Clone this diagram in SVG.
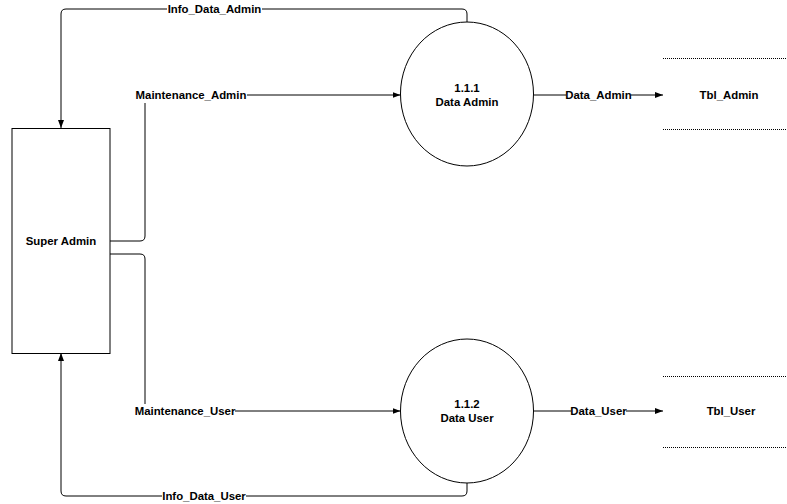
<svg xmlns="http://www.w3.org/2000/svg" width="787" height="504" viewBox="0 0 787 504">
<style>
text{font-family:"Liberation Sans",Arial,sans-serif;font-size:11.4px;font-weight:bold;fill:#000;text-anchor:middle;dominant-baseline:central}
.shape{fill:#fff;stroke:#000;stroke-width:1}
.edge{fill:none;stroke:#000;stroke-width:1}
.dot{stroke:#000;stroke-width:1;stroke-dasharray:1 1}
.lbl{fill:#fff}
</style>
<defs>
<marker id="arr" viewBox="0 0 8 8" refX="8" refY="4" markerWidth="8" markerHeight="8" markerUnits="userSpaceOnUse" orient="auto">
<path d="M0,1 L8,4 L0,7 Z" fill="#000"/>
</marker>
</defs>
<rect width="787" height="504" fill="#fff"/>
<g id="connectors">
<path class="edge" d="M467,22 V14 Q467,9 462,9 H66 Q61,9 61,14 V128" marker-end="url(#arr)"/>
<rect class="lbl" x="167" y="2" width="95" height="14"/>
<text x="214.5" y="9">Info_Data_Admin</text>
<path class="edge" d="M110,241 H140 Q145,241 145,236 V95 H400.5" marker-end="url(#arr)"/>
<rect class="lbl" x="135" y="88" width="112" height="15"/>
<text x="191" y="95">Maintenance_Admin</text>
<path class="edge" d="M110,254 H140 Q145,254 145,259 V411 H400.5" marker-end="url(#arr)"/>
<rect class="lbl" x="135" y="404" width="100" height="15"/>
<text x="185" y="411">Maintenance_User</text>
<path class="edge" d="M467,483 V491 Q467,496 462,496 H66 Q61,496 61,491 V353" marker-end="url(#arr)"/>
<rect class="lbl" x="162" y="489" width="84" height="14"/>
<text x="204" y="496">Info_Data_User</text>
<path class="edge" d="M534,95 H663" marker-end="url(#arr)"/>
<rect class="lbl" x="566" y="88" width="65" height="14"/>
<text x="598.5" y="95">Data_Admin</text>
<path class="edge" d="M534,411 H663" marker-end="url(#arr)"/>
<rect class="lbl" x="571" y="404" width="55" height="14"/>
<text x="598.5" y="411">Data_User</text>
</g>
<g id="super-admin">
<rect class="shape" x="12" y="128.5" width="98" height="225"/>
<text x="61" y="241">Super Admin</text>
</g>
<g id="data-admin">
<ellipse class="shape" cx="467" cy="94" rx="66.5" ry="72"/>
<text x="467" y="88">1.1.1</text>
<text x="467" y="102">Data Admin</text>
</g>
<g id="data-user">
<ellipse class="shape" cx="467" cy="411" rx="66.5" ry="72"/>
<text x="467" y="404">1.1.2</text>
<text x="467" y="418">Data User</text>
</g>
<g id="tbl-admin">
<line class="dot" x1="663" y1="58.5" x2="787" y2="58.5"/>
<line class="dot" x1="663" y1="129.5" x2="787" y2="129.5"/>
<text x="729" y="95">Tbl_Admin</text>
</g>
<g id="tbl-user">
<line class="dot" x1="663" y1="376.5" x2="787" y2="376.5"/>
<line class="dot" x1="663" y1="447.5" x2="787" y2="447.5"/>
<text x="731" y="411">Tbl_User</text>
</g>
</svg>
